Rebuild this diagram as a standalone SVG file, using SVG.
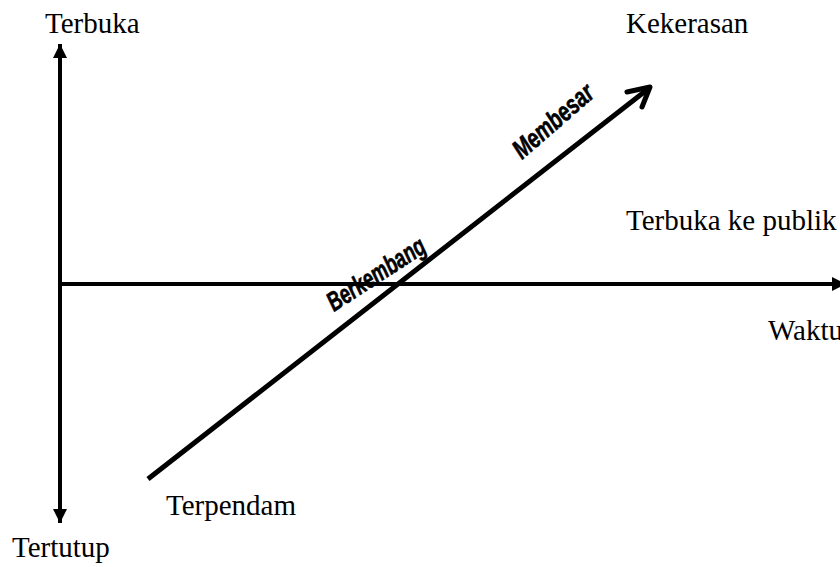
<svg xmlns="http://www.w3.org/2000/svg" width="840" height="567" viewBox="0 0 840 567">
<style>
.lbl{font-family:"Liberation Serif","Times New Roman",serif;font-size:29px;fill:#000}
.dia{font-family:"Liberation Sans",Arial,sans-serif;font-size:27px;font-weight:bold;font-style:italic;fill:#000;stroke:#000;stroke-width:0.6}
.axis{stroke:#000;stroke-width:4;fill:none}
</style>
<defs>
<marker id="tri" viewBox="0 0 10 10" refX="10" refY="5" markerWidth="14" markerHeight="14" markerUnits="userSpaceOnUse" orient="auto">
<path d="M0,0 L10,5 L0,10 Z" fill="#000"/>
</marker>
</defs>
<rect width="840" height="567" fill="#fff"/>
<g id="connectors">
<line class="axis" x1="60" y1="284" x2="60" y2="44" marker-end="url(#tri)"/>
<line class="axis" x1="60" y1="284" x2="60" y2="523" marker-end="url(#tri)"/>
<line class="axis" x1="60" y1="284" x2="846" y2="284" marker-end="url(#tri)"/>
<line x1="148" y1="479" x2="648" y2="89" stroke="#000" stroke-width="5"/>
<polyline points="627,92 650,87 642,107" fill="none" stroke="#000" stroke-width="5" stroke-linecap="round" stroke-linejoin="round"/>
</g>
<g id="label-terbuka"><text class="lbl" x="45" y="33">Terbuka</text></g>
<g id="label-tertutup"><text class="lbl" x="12" y="557">Tertutup</text></g>
<g id="label-kekerasan"><text class="lbl" x="626" y="33">Kekerasan</text></g>
<g id="label-publik"><text class="lbl" x="626" y="230">Terbuka ke publik</text></g>
<g id="label-waktu"><text class="lbl" x="768" y="340">Waktu</text></g>
<g id="label-terpendam"><text class="lbl" x="166" y="515">Terpendam</text></g>
<g id="label-berkembang"><text class="dia" transform="translate(334,312) rotate(-33)" textLength="112" lengthAdjust="spacingAndGlyphs">Berkembang</text></g>
<g id="label-membesar"><text class="dia" transform="translate(522,160) rotate(-41)" textLength="98" lengthAdjust="spacingAndGlyphs">Membesar</text></g>
</svg>
